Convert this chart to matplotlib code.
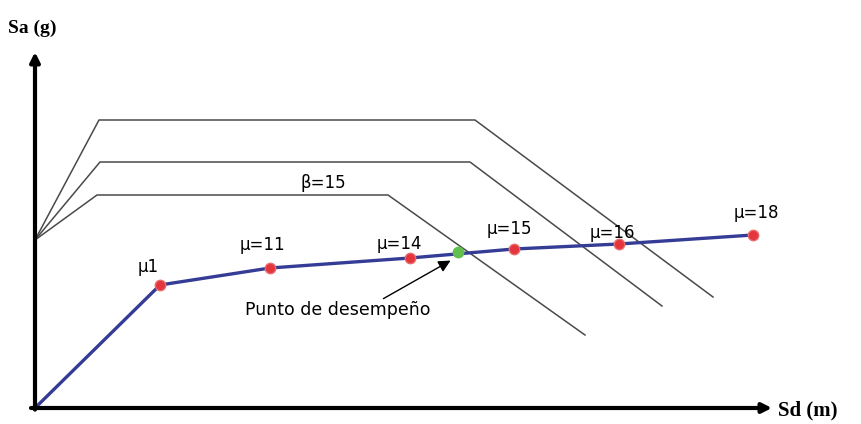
import matplotlib.pyplot as plt

# Capacity curve (spectral displacement Sd in m, spectral acceleration Sa in g)
sd_cap = [0.0, 0.125, 0.235, 0.375, 0.479, 0.584, 0.718]
sa_cap = [0.0, 0.3075, 0.350, 0.375, 0.3975, 0.410, 0.4325]

# Ductility points marked on the curve (the first point is the origin)
mu_labels = ["μ1", "μ=11", "μ=14", "μ=15", "μ=16", "μ=18"]
mu_label_pos = [(0.113, 0.3525), (0.227, 0.4075), (0.364, 0.410),
                (0.474, 0.4475), (0.577, 0.4375), (0.721, 0.4875)]

# Performance point
sd_pp, sa_pp = 0.423, 0.390

# Demand spectra: ramp, plateau, descending branch
spectra_sd = [
    [0.0, 0.064, 0.440, 0.678],
    [0.0, 0.065, 0.435, 0.627],
    [0.0, 0.062, 0.353, 0.550],
]
spectra_sa = [
    [0.42, 0.720, 0.720, 0.2775],
    [0.42, 0.615, 0.615, 0.255],
    [0.42, 0.5325, 0.5325, 0.1825],
]

fig = plt.figure(figsize=(8.61, 4.24), dpi=100)
ax = fig.add_axes([0, 0, 1, 1])
ax.set_xlim(-0.035, 0.826)
ax.set_ylim(-0.04, 1.02)
ax.axis('off')

# spectra
for xs, ys in zip(spectra_sd, spectra_sa):
    ax.plot(xs, ys, color='#4a4a4a', lw=1.1, zorder=2)

# capacity curve and points
ax.plot(sd_cap, sa_cap, color='#353c96', lw=2.4, zorder=3)
ax.plot(sd_cap[1:], sa_cap[1:], 'o', color='#e4343c', ms=7.5, mec='#e86a6a', zorder=4)
ax.plot(sd_pp, sa_pp, 'o', color='#62c04e', ms=7.5, zorder=5)

for lab, (x, y) in zip(mu_labels, mu_label_pos):
    ax.text(x, y, lab, fontsize=12, ha='center', va='center', color='black', zorder=6)
ax.text(0.288, 0.5625, "β=15", fontsize=12, ha='center', va='center', color='black')

# performance point callout
ax.annotate("", xy=(0.418, 0.372), xytext=(0.346, 0.27),
            arrowprops=dict(arrowstyle='-|>', color='k', lw=1, mutation_scale=18))
ax.text(0.210, 0.245, "Punto de desempeño", fontsize=12.5, ha='left', va='center',
        color='black')

# axes with arrows
ax.annotate("", xy=(0, 0.89), xytext=(0, -0.004),
            arrowprops=dict(arrowstyle='-|>', color='k', lw=3, mutation_scale=14,
                            shrinkA=0, shrinkB=0))
ax.annotate("", xy=(0.737, 0), xytext=(-0.004, 0),
            arrowprops=dict(arrowstyle='-|>', color='k', lw=3, mutation_scale=14,
                            shrinkA=0, shrinkB=0))

ax.text(-0.027, 0.948, "Sa (g)", fontsize=14, fontweight='bold', family='Liberation Serif',
        ha='left', va='center')
ax.text(0.743, -0.005, "Sd (m)", fontsize=15, fontweight='bold', family='Liberation Serif',
        ha='left', va='center')

fig.savefig('out.png', dpi=100)
